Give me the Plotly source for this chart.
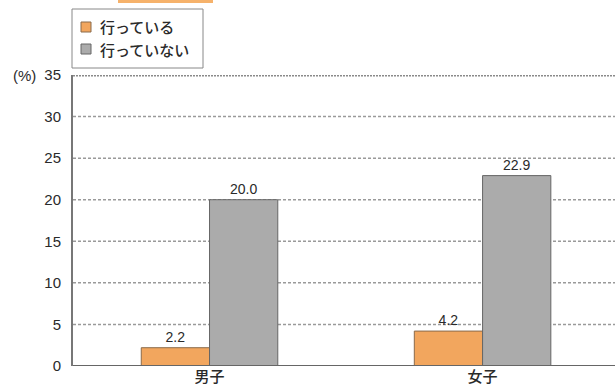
import plotly.graph_objects as go

categories = ["男子", "女子"]
doing = [2.2, 4.2]
not_doing = [20.0, 22.9]
series_names = ["行っている", "行っていない"]
y_ticks = [0, 5, 10, 15, 20, 25, 30, 35]

ORANGE = "#F2A65E"
GRAY = "#ABABAB"
TEXT = "#2a2a2a"
FONT = "Liberation Sans, Noto Sans CJK JP, sans-serif"
JP = "Noto Sans CJK JP, sans-serif"

W, H = 615, 390
L, R, T, B = 73, 0, 75, 24
PW, PH = W - L - R, H - T - B


def px_x(x):
    return (x - L) / PW


def px_y(y):
    return (H - B - y) / PH


x_pos = list(range(len(categories)))
colors = [ORANGE, GRAY]
edges = ["#8a6a4a", "#666666"]

fig = go.Figure()
for name, vals, c, e in zip(series_names, [doing, not_doing], colors, edges):
    fig.add_trace(go.Bar(
        x=x_pos, y=vals, name=name,
        marker=dict(color=c, line=dict(color=e, width=1)),
        text=[f"{v:.1f}" for v in vals], textposition="outside",
        textfont=dict(size=14, color=TEXT), cliponaxis=False,
    ))

fig.update_layout(
    width=W, height=H,
    margin=dict(l=L, r=R, t=T, b=B),
    paper_bgcolor="white", plot_bgcolor="white",
    font=dict(family=FONT, color=TEXT),
    barmode="group", bargap=0.5, bargroupgap=0,
    showlegend=False,
    xaxis=dict(
        range=[-0.5, 1.485], tickvals=x_pos, ticktext=categories,
        showgrid=False, zeroline=False, showline=False, ticks="",
        tickfont=dict(size=15, color=TEXT, family=JP, weight=500),
    ),
    yaxis=dict(
        range=[0, 35], tickvals=y_ticks, showgrid=False, zeroline=False,
        showline=True, linecolor="#777777", linewidth=2,
        ticks="", ticklabelstandoff=7,
        tickfont=dict(size=15, color=TEXT),
    ),
)

# dotted gridlines between 5 and 30
for v in y_ticks[1:-1]:
    fig.add_shape(type="line", xref="paper", yref="y", x0=0, x1=1, y0=v, y1=v,
                  line=dict(color="#9a9a9a", width=1.5, dash="3px,2px"), layer="below")
# heavier top border at 35
fig.add_shape(type="line", xref="paper", yref="y", x0=0, x1=1, y0=35, y1=35,
              line=dict(color="#8a8a8a", width=3, dash="2px,1px"), layer="below")
# baseline
fig.add_shape(type="line", xref="paper", yref="y", x0=0, x1=1, y0=0, y1=0,
              line=dict(color="#666666", width=2), layer="above")

# unit label
fig.add_annotation(text="(%)", xref="paper", yref="y", x=px_x(38), y=35,
                   xanchor="right", yanchor="middle", showarrow=False,
                   font=dict(size=15, color=TEXT))

# legend box
fig.add_shape(type="rect", xref="paper", yref="paper",
              x0=px_x(72), x1=px_x(203), y0=px_y(68), y1=px_y(9),
              fillcolor="white", line=dict(color="#888888", width=1), layer="above")
for i, (name, c, e) in enumerate(zip(series_names, colors, edges)):
    yc = 27 + 22 * i
    fig.add_shape(type="rect", xref="paper", yref="paper",
                  x0=px_x(81), x1=px_x(91), y0=px_y(yc + 5), y1=px_y(yc - 5),
                  fillcolor=c, line=dict(color=e, width=1), layer="above")
    fig.add_annotation(text=name, xref="paper", yref="paper",
                       x=px_x(98), y=px_y(yc), xanchor="left", yanchor="middle",
                       showarrow=False,
                       font=dict(size=15, color=TEXT, family=JP, weight=500))

# header tab peeking in at the top edge
fig.add_shape(type="rect", xref="paper", yref="paper",
              x0=px_x(118), x1=px_x(213), y0=px_y(3), y1=px_y(-12),
              fillcolor="#F6B26B", line=dict(width=0), layer="above")

fig.write_html("out.html")
